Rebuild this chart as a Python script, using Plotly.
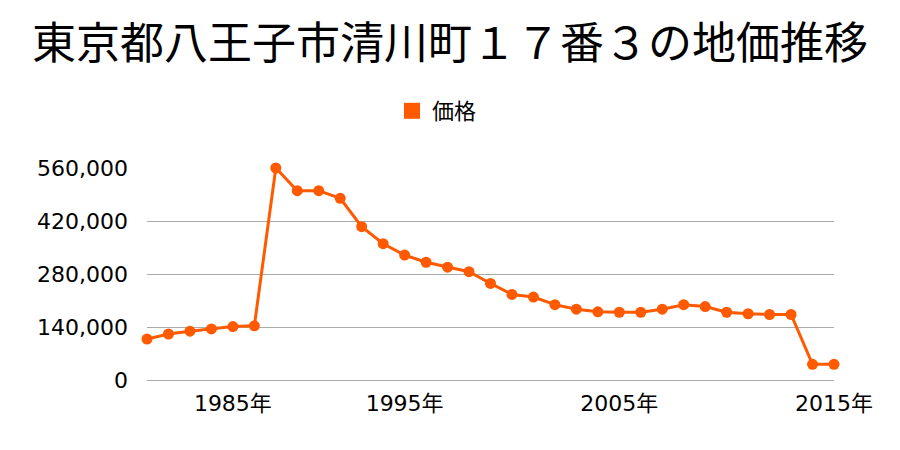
import plotly.graph_objects as go

years = list(range(1983, 2016))
prices = [108000, 121500, 129000, 135000, 141000, 143000, 560000, 500000, 500000,
          480000, 405000, 360000, 330000, 311000, 298000, 286000, 255000, 226000,
          219000, 199000, 187000, 180000, 179000, 179000, 187000, 199000, 194000,
          179000, 175000, 173000, 173000, 41400, 41400]
tick_vals = [1987, 1995, 2005, 2015]
tick_text = ["1985年", "1995年", "2005年", "2015年"]
y_ticks = [0, 140000, 280000, 420000, 560000]

FONT = "Noto Sans CJK JP"
TICKFONT = "DejaVu Sans, Noto Sans CJK JP"
COLOR = "#FF5A00"

fig = go.Figure()
fig.add_trace(go.Scatter(
    x=years, y=prices, mode="lines+markers", name="価格",
    line=dict(color=COLOR, width=3),
    marker=dict(color=COLOR, size=11),
    cliponaxis=False, showlegend=False,
))
fig.add_trace(go.Scatter(
    x=[None], y=[None], mode="markers", name="価格",
    marker=dict(color=COLOR, size=22, symbol="square"),
    showlegend=True,
))

fig.update_layout(
    width=900, height=450,
    margin=dict(l=147, r=66, t=168, b=70),
    paper_bgcolor="white", plot_bgcolor="white",
    font=dict(family=FONT, color="#000"),
    title=dict(text="東京都八王子市清川町１７番３の地価推移", x=0.5, xanchor="center",
               y=1 - 44 / 450, yanchor="middle", font=dict(size=44, family=FONT, color="#000")),
    showlegend=True,
    legend=dict(orientation="h", x=437 / 900, xref="container", xanchor="center",
                y=1 - 111 / 450, yref="container",
                yanchor="middle", font=dict(size=22, family=FONT), itemsizing="trace",
                bgcolor="rgba(0,0,0,0)"),
    xaxis=dict(range=[1983, 2015], tickvals=tick_vals, ticktext=tick_text,
               showgrid=False, zeroline=False, showline=False, ticks="",
               tickfont=dict(size=22, family=TICKFONT), ticklabelstandoff=8),
    yaxis=dict(range=[0, 560000], tickvals=y_ticks, tickformat=",",
               showgrid=True, gridcolor="#aaaaaa", gridwidth=1,
               zeroline=True, zerolinecolor="#aaaaaa", zerolinewidth=1,
               showline=False, ticks="", tickfont=dict(size=22, family=TICKFONT),
               ticklabelstandoff=18),
)

fig.write_html("out.html")
